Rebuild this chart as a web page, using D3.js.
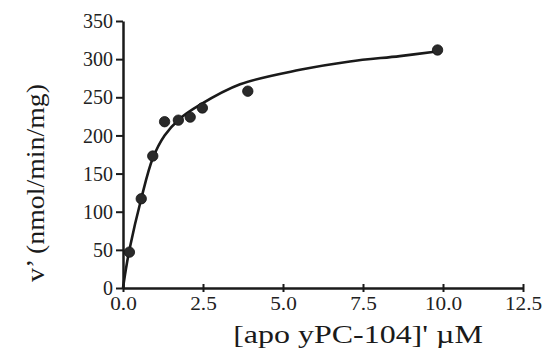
<!DOCTYPE html>
<html>
<head>
<meta charset="utf-8">
<script src="https://cdn.jsdelivr.net/npm/d3@7"></script>
<style>
  body { margin: 0; background: #fff; }
  svg { display: block; }
</style>
</head>
<body>
<div id="chart"></div>
<script>
// measured points (concentration in uM, rate in nmol/min/mg)
const pointX = [0.2, 0.57, 0.93, 1.3, 1.73, 2.1, 2.48, 3.9, 9.83];
const pointY = [47, 117, 173, 218, 220, 224, 236, 258, 312];

// fitted curve
const curveX = [0, 0.08, 0.2, 0.57, 0.93, 1.3, 1.75, 2.4, 3.66, 5.53, 7.09, 8.65, 9.8];
const curveY = [0, 22, 50, 117, 170, 200, 221, 240, 267, 286, 297, 304, 310];

const xTicks = [0, 2.5, 5, 7.5, 10, 12.5];
const yTicks = [0, 50, 100, 150, 200, 250, 300, 350];

const width = 549, height = 354;
const margin = { left: 123, right: 26, top: 21, bottom: 66 };
const serif = '"Liberation Serif", "Times New Roman", "DejaVu Serif", serif';

const svg = d3.select('#chart').append('svg')
  .attr('width', width)
  .attr('height', height);

const x = d3.scaleLinear([0, 12.5], [margin.left, width - margin.right]);
const y = d3.scaleLinear([0, 350], [height - margin.bottom, margin.top]);

/*
Axes
*/
const ax = svg.append('g')
  .attr('transform', `translate(${[0, y(0)]})`)
  .call(d3.axisBottom(x).tickValues(xTicks).tickFormat(d3.format('.1f')).tickSize(4).tickSizeOuter(0));
ax.attr('font-family', serif);
ax.select('.domain').attr('stroke-width', 2.5).attr('stroke', '#1a1a1a');
ax.selectAll('.tick line').attr('y1', -4).attr('stroke-width', 2).attr('stroke', '#1a1a1a');
ax.selectAll('.tick text')
  .style('font-family', serif)
  .style('font-size', '18px')
  .attr('fill', '#222')
  .attr('y', 0)
  .attr('dy', 0)
  .attr('transform', 'translate(0,22) scale(1.18,1)');

const ay = svg.append('g')
  .attr('transform', `translate(${[x(0), 0]})`)
  .call(d3.axisLeft(y).tickValues(yTicks).tickSize(7).tickSizeOuter(0));
ay.attr('font-family', serif);
ay.select('.domain').attr('stroke-width', 2.5).attr('stroke', '#1a1a1a');
ay.selectAll('.tick line').attr('stroke-width', 2).attr('stroke', '#1a1a1a');
ay.selectAll('.tick text')
  .style('font-family', serif)
  .style('font-size', '20px')
  .attr('fill', '#222')
  .attr('x', -10)
  .attr('dy', '0.33em');

/*
Fitted curve
*/
const line = d3.line()
  .curve(d3.curveCatmullRom.alpha(0.5))
  .x((d, i) => x(curveX[i]))
  .y(d => y(d));

svg.append('path')
  .datum(curveY)
  .attr('fill', 'none')
  .attr('stroke', '#1a1a1a')
  .attr('stroke-width', 2.6)
  .attr('d', line);

/*
Data points
*/
svg.selectAll('circle.pt')
  .data(pointY)
  .join('circle')
  .attr('class', 'pt')
  .attr('cx', (d, i) => x(pointX[i]))
  .attr('cy', d => y(d))
  .attr('r', 5.2)
  .attr('fill', '#2a2a2a')
  .attr('stroke', '#111')
  .attr('stroke-width', 0.8);

/*
Axis titles
*/
svg.append('text')
  .attr('transform', 'translate(358,343) scale(1.23,1)')
  .attr('text-anchor', 'middle')
  .attr('font-family', serif)
  .attr('font-size', 26)
  .attr('fill', '#1a1a1a')
  .text('[apo yPC-104]\' \u00b5M');

svg.append('text')
  .attr('transform', 'translate(44,183) rotate(-90) scale(1.07,1)')
  .attr('text-anchor', 'middle')
  .attr('font-family', serif)
  .attr('font-size', 26)
  .attr('fill', '#1a1a1a')
  .text('v\u2019 (nmol/min/mg)');
</script>
</body>
</html>
